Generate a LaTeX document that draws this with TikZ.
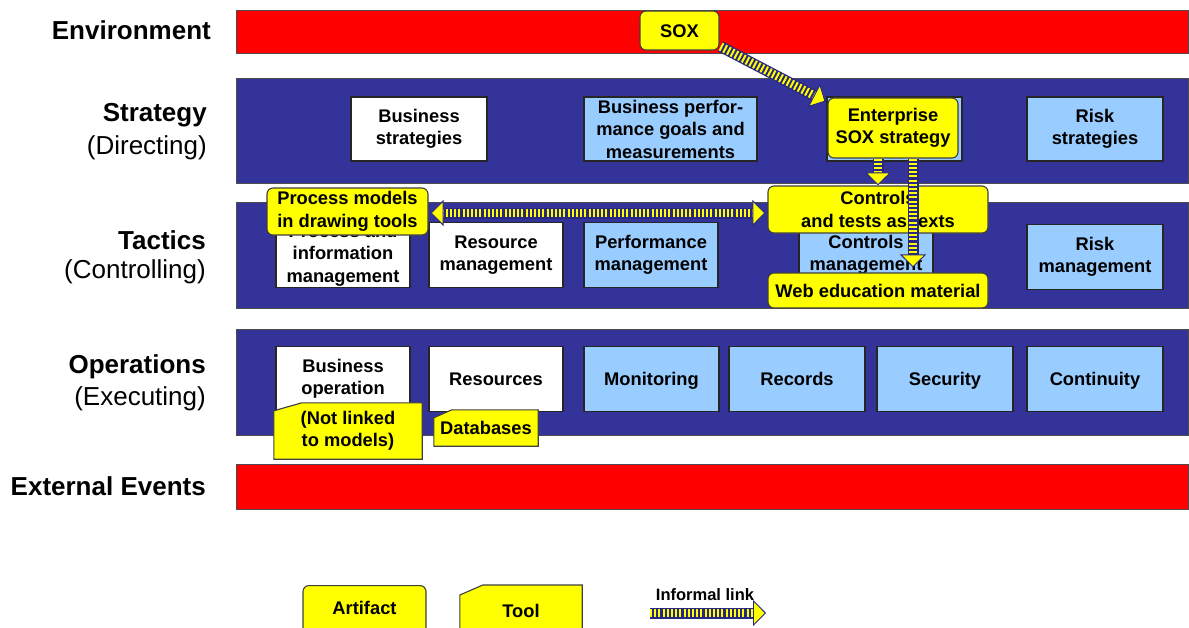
\documentclass[tikz,border=0pt]{standalone}
\usepackage{fontspec}
\setmainfont{Liberation Sans}
\usetikzlibrary{calc,arrows.meta}
\definecolor{bandred}{RGB}{255,0,0}
\definecolor{bandblue}{RGB}{51,51,153}
\definecolor{lightbox}{RGB}{153,204,255}
\definecolor{artyellow}{RGB}{255,255,0}
\definecolor{stripenavy}{RGB}{40,40,130}
\pgfdeclarelayer{bands}
\pgfdeclarelayer{boxes}
\pgfdeclarelayer{toolbg}
\pgfsetlayers{bands,boxes,toolbg,main}
\tikzset{
  band/.style={draw=black!70, line width=0.8pt},
  redband/.style={band, fill=bandred},
  blueband/.style={band, fill=bandblue},
  boxtext/.style={font=\fontsize{18.3}{22.5}\selectfont\bfseries, align=center, inner sep=0pt},
  oneline/.style={text height=13pt, text depth=0pt},
  whitebox/.style={boxtext, draw=black!85, line width=1.1pt, fill=white, minimum width=134pt, minimum height=65pt},
  bluebox/.style={whitebox, fill=lightbox},
  artifact/.style={boxtext, draw=black!75, line width=1.1pt, fill=artyellow, rounded corners=6pt},
  tooltext/.style={boxtext},
  toolshape/.style={draw=black!75, line width=1.1pt, fill=artyellow},
  lefthead/.style={font=\fontsize{26}{29}\selectfont\bfseries, anchor=east, inner sep=0pt},
  leftsub/.style={font=\fontsize{26}{29}\selectfont, anchor=east, inner sep=0pt},
}
\newcommand\stripeshaft[2]{%
  \draw[line width=11pt, stripenavy] (#1) -- (#2);
  \draw[line width=8.5pt, artyellow, dash pattern=on 2pt off 2.2pt] (#1) -- (#2);
}
\newcommand\stripehead[2]{% #1 base point, #2 tip point
  \draw[stripenavy, line width=0.9pt, -{Triangle[length=13pt,width=26pt,fill=artyellow]}] (#1) -- (#2);
}
\newcommand\striparrow[2]{%
  \coordinate (sa-base) at ($(#2)!13pt!(#1)$);
  \coordinate (sa-shaft) at ($(#2)!11pt!(#1)$);
  \stripeshaft{#1}{sa-shaft}
  \stripehead{sa-base}{#2}
}
\begin{document}
\begin{tikzpicture}[x=1pt,y=-1pt]
\useasboundingbox (0,0) rectangle (1189,627);

% bands
\begin{pgfonlayer}{bands}
\fill[white] (0,0) rectangle (1189,627);
\draw[redband] (236,10) rectangle (1188,53);
\draw[blueband] (236,78) rectangle (1188,183);
\draw[blueband] (236,202) rectangle (1188,308);
\draw[blueband] (236,329) rectangle (1188,435);
\draw[redband] (236,464) rectangle (1188,509);
\end{pgfonlayer}

% left labels
\node[lefthead] (lenv) at (211,30) {Environment};
\node[lefthead] (lstrat) at (207,115) {Strategy};
\node[leftsub] (ldir) at (207,148) {(Directing)};
\node[lefthead] (ltac) at (206,240) {Tactics};
\node[leftsub] (lctl) at (206,272) {(Controlling)};
\node[lefthead] (lops) at (206,367) {Operations};
\node[leftsub] (lexe) at (206,399) {(Executing)};
\node[lefthead] (lext) at (206,486) {External Events};

% boxes
\begin{pgfonlayer}{boxes}
\node[whitebox, minimum width=136pt, minimum height=64pt] (bstrat) at (419,129) {Business\\strategies};
\node[bluebox, minimum width=173pt, minimum height=64pt] (bperf) at (670.5,129) {Business perfor-\\mance goals and\\measurements};
\node[bluebox, minimum width=135pt, minimum height=64pt] (esox) at (894.5,129) {};
\node[bluebox, minimum width=136pt, minimum height=64pt] (rstrat) at (1095,129) {Risk\\strategies};

\node[whitebox] (procinfo) at (343,255) {Process and\\information\\management};
\node[whitebox] (resmgmt) at (496,255) {Resource\\management};
\node[bluebox] (perfmgmt) at (651,255) {Performance\\management};
\node[bluebox] (ctrlmgmt) at (866,255) {Controls\\management};
\node[bluebox, minimum width=136pt] (riskmgmt) at (1095,257) {Risk\\management};

\node[whitebox] (bop) at (343,379) {Business\\operation};
\node[whitebox, oneline] (resources) at (496,379) {Resources};
\node[bluebox, oneline, minimum width=135pt] (monitoring) at (651.5,379) {Monitoring};
\node[bluebox, oneline, minimum width=136pt] (records) at (797,379) {Records};
\node[bluebox, oneline, minimum width=136pt] (security) at (945,379) {Security};
\node[bluebox, oneline, minimum width=136pt] (continuity) at (1095,379) {Continuity};
\end{pgfonlayer}

% artifacts
\node[artifact, oneline, minimum width=79pt, minimum height=39pt] (sox) at (679.5,30.5) {SOX};
\node[artifact, minimum width=130pt, minimum height=60pt] (esoxart) at (893,128) {Enterprise\\SOX strategy};
\node[artifact, minimum width=161pt, minimum height=47pt] (procmodels) at (347.5,211.5) {Process models\\in drawing tools};
\node[artifact, minimum width=220pt, minimum height=47pt] (ctrltests) at (878,209.5) {Controls\\and tests as texts};
\node[artifact, oneline, minimum width=220pt, minimum height=35pt] (webedu) at (878,290.5) {Web education material};

% tools
\node[tooltext, minimum width=148pt, minimum height=56pt] (notlinked) at (348,431) {(Not linked\\to models)};
\node[tooltext, oneline, minimum width=104pt, minimum height=36pt] (databases) at (486,428) {Databases};
\begin{pgfonlayer}{toolbg}
\draw[toolshape] (notlinked.south west) -- ($(notlinked.north west)+(0,8)$) -- ($(notlinked.north west)+(28,0)$) -- (notlinked.north east) -- (notlinked.south east) -- cycle;
\draw[toolshape] (databases.south west) -- ($(databases.north west)+(0,8)$) -- ($(databases.north west)+(18,0)$) -- (databases.north east) -- (databases.south east) -- cycle;
\end{pgfonlayer}

% informal links
\striparrow{$(sox.south east)+(1,-4)$}{$(esoxart.north west)+(-2,4)$}
\striparrow{ctrltests.north |- esoxart.south}{ctrltests.north}
\striparrow{$(esoxart.south)+(20,0)$}{$(webedu.north)+(35,-5)$}
% double-headed link
\coordinate (dl) at ($(procmodels.east)+(2,1.5)$);
\coordinate (dr) at ($(ctrltests.west |- procmodels.east)+(-2,1.5)$);
\coordinate (dlb) at ($(dl)!13pt!(dr)$);
\coordinate (drb) at ($(dr)!13pt!(dl)$);
\coordinate (dls) at ($(dl)!11pt!(dr)$);
\coordinate (drs) at ($(dr)!11pt!(dl)$);
\stripeshaft{dls}{drs}
\stripehead{dlb}{dl}
\stripehead{drb}{dr}

% legend
\node[artifact, minimum width=123pt, minimum height=50pt, anchor=north] (legart) at (364.5,585) {};
\node[boxtext, oneline] (legarttext) at (364.5,608) {Artifact};
\node[tooltext, minimum width=122pt, minimum height=50pt, anchor=north] (legtool) at (521,585) {};
\node[boxtext, oneline] (legtooltext) at (521,611) {Tool};
\begin{pgfonlayer}{toolbg}
\draw[toolshape] (legtool.south west) -- ($(legtool.north west)+(0,10)$) -- ($(legtool.north west)+(23,0)$) -- (legtool.north east) -- (legtool.south east) -- cycle;
\end{pgfonlayer}
\node[boxtext, font=\fontsize{16.5}{20}\selectfont\bfseries] (leglink) at (705,595) {Informal link};
\coordinate (linkstart) at (650,613);
\coordinate (linkend) at (766,613);
\striparrow{linkstart}{linkend}
\end{tikzpicture}
\end{document}
